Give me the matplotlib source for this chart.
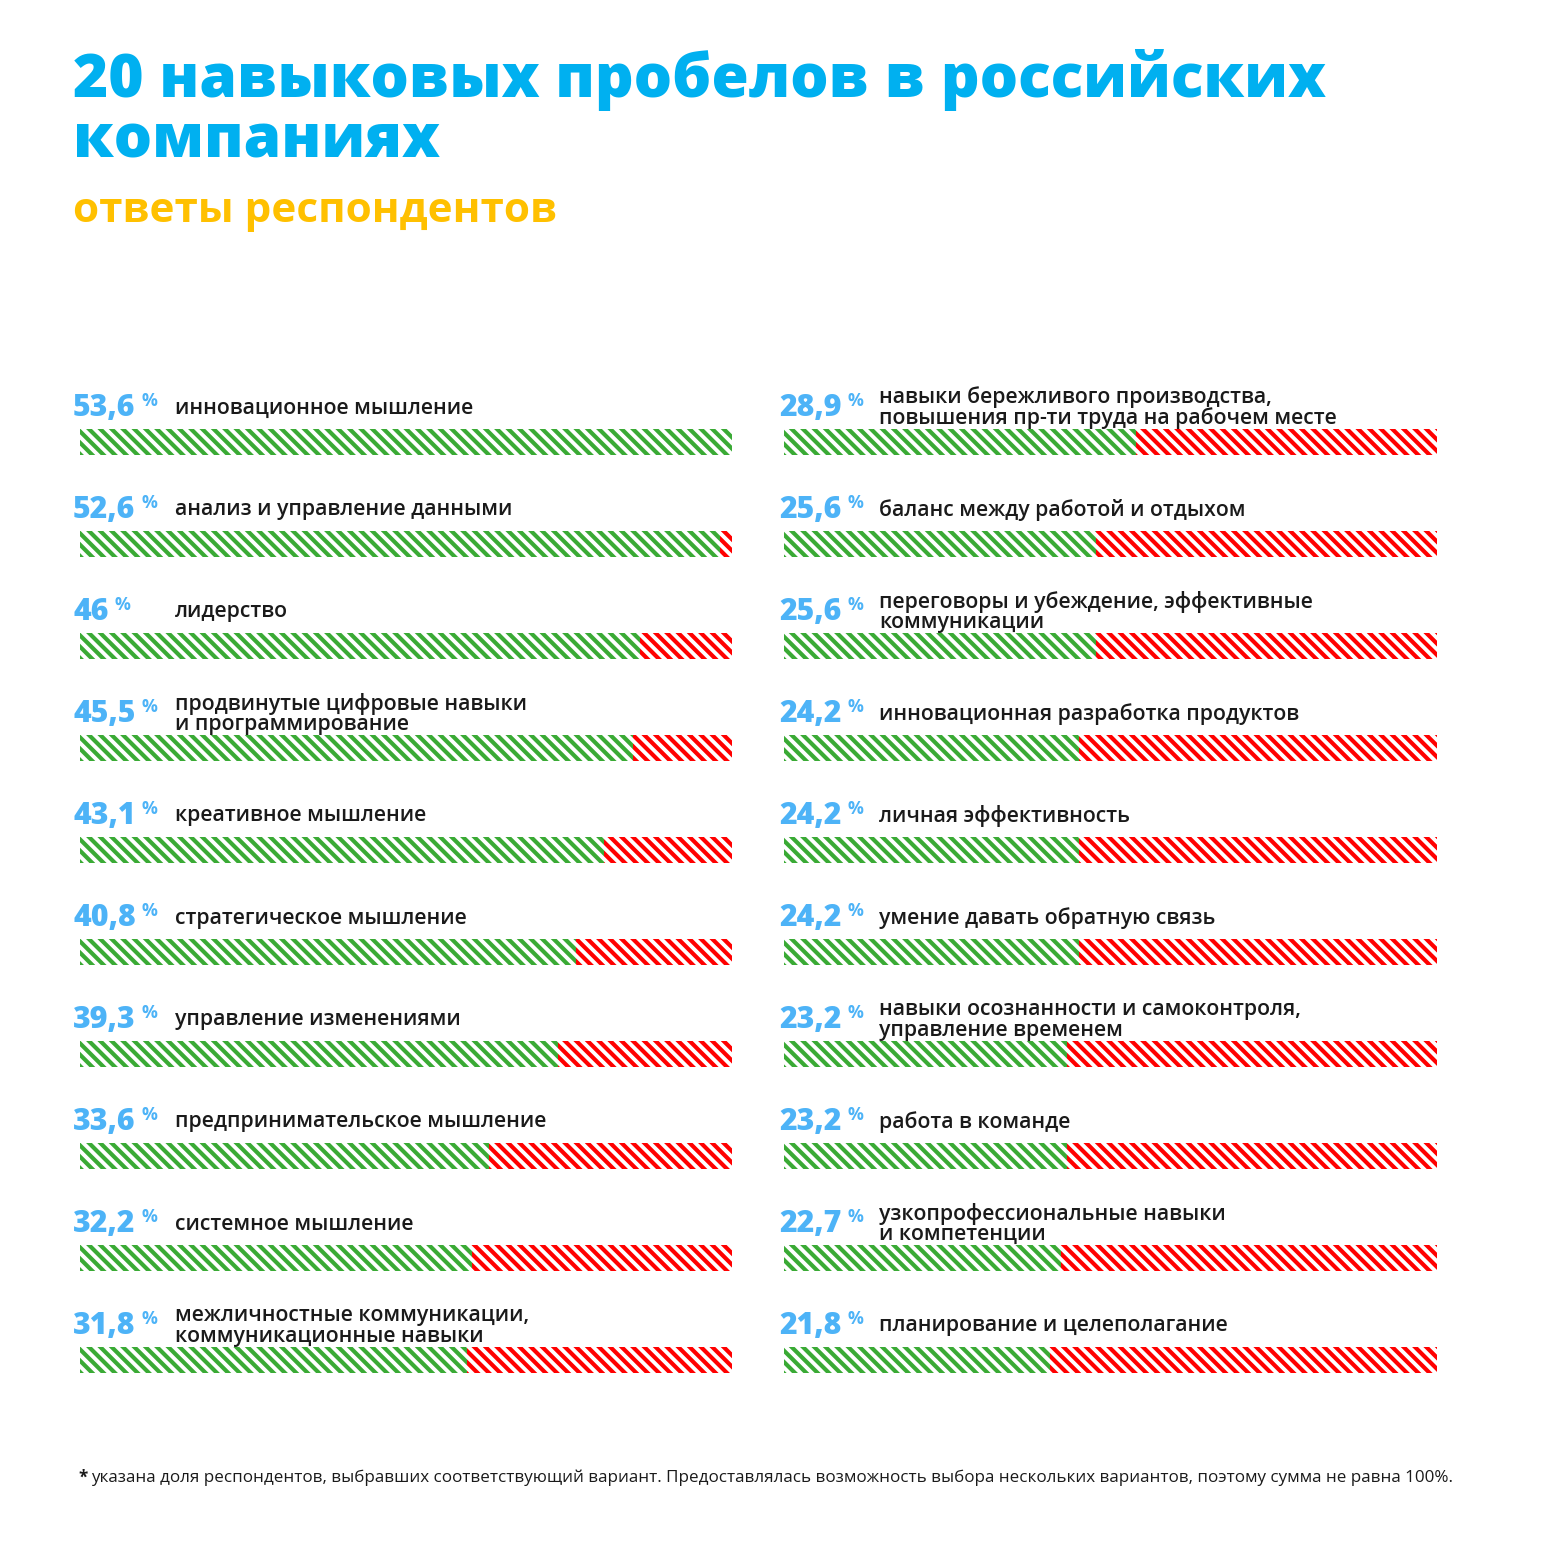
import matplotlib
matplotlib.use("Agg")
import matplotlib.pyplot as plt

# ---------------- data ----------------
title_lines = ["20 навыковых пробелов в российских", "компаниях"]
subtitle = "ответы респондентов"
footnote_star = "*"
footnote = ("указана доля респондентов, выбравших соответствующий вариант. "
            "Предоставлялась возможность выбора нескольких вариантов, поэтому сумма не равна 100%.")

left_labels = [
    "инновационное мышление",
    "анализ и управление данными",
    "лидерство",
    "продвинутые цифровые навыки\nи программирование",
    "креативное мышление",
    "стратегическое мышление",
    "управление изменениями",
    "предпринимательское мышление",
    "системное мышление",
    "межличностные коммуникации,\nкоммуникационные навыки",
]
left_values = [53.6, 52.6, 46, 45.5, 43.1, 40.8, 39.3, 33.6, 32.2, 31.8]

right_labels = [
    "навыки бережливого производства,\nповышения пр-ти труда на рабочем месте",
    "баланс между работой и отдыхом",
    "переговоры и убеждение, эффективные\nкоммуникации",
    "инновационная разработка продуктов",
    "личная эффективность",
    "умение давать обратную связь",
    "навыки осознанности и самоконтроля,\nуправление временем",
    "работа в команде",
    "узкопрофессиональные навыки\nи компетенции",
    "планирование и целеполагание",
]
right_values = [28.9, 25.6, 25.6, 24.2, 24.2, 24.2, 23.2, 23.2, 22.7, 21.8]

# ---------------- style ----------------
W = H = 1557
DPI = 136
S = 150 / DPI   # font scale so sizes in pixels stay the same

FONT = ["Open Sans", "DejaVu Sans"]
plt.rcParams["font.family"] = FONT
plt.rcParams["hatch.linewidth"] = 2.2

BLUE_TITLE = "#00b0f0"
YELLOW = "#ffc000"
BLUE_PCT = "#4db3f7"
GREEN = "#3aaa35"
RED = "#ff0000"
TEXT = "#1a1a1a"

fig = plt.figure(figsize=(W / DPI, H / DPI), dpi=DPI, facecolor="white")


def fx(x):
    return x / W


def fy(y):
    return 1 - y / H


# title / subtitle
for line, base in zip(title_lines, [97, 158]):
    fig.text(fx(73), fy(base), line, color=BLUE_TITLE, fontsize=29 * S, fontweight="heavy",
             ha="left", va="baseline")
fig.text(fx(73), fy(222), subtitle, color=YELLOW, fontsize=20.3 * S, fontweight="bold",
         ha="left", va="baseline")

# footnote
fig.text(fx(78), fy(1478), footnote_star, color=TEXT, fontsize=8.2 * S,
         fontweight="bold", ha="left", va="center")
fig.text(fx(91), fy(1478), footnote, color=TEXT, fontsize=8.2 * S, fontweight="medium",
         ha="left", va="center")

vmax = max(left_values + right_values)

ROW0 = 442      # pixel centre of first bar
STEP = 102      # pixel spacing between rows
NROWS = 10
BAR_H = 26 / STEP


def column(x0, x1, labels, values, pct_x, lab_x):
    top = ROW0 - STEP / 2
    bottom = top + STEP * NROWS
    ax = fig.add_axes([fx(x0), fy(bottom), fx(x1 - x0), (bottom - top) / H])
    ax.set_xlim(0, vmax)
    ax.set_ylim(NROWS - 0.5, -0.5)
    ax.axis("off")
    idx = list(range(len(values)))
    ax.barh(idx, values, height=BAR_H, color="white", edgecolor=GREEN,
            linewidth=0, hatch="\\\\\\\\")
    ax.barh(idx, [vmax - v for v in values], left=values, height=BAR_H,
            color="white", edgecolor=RED, linewidth=0, hatch="\\\\\\\\")
    for i, (lab, v) in enumerate(zip(labels, values)):
        yc = ROW0 + STEP * i
        num = f"{v:g}".replace(".", ",")
        t = fig.text(fx(pct_x), fy(yc - 26), num, color=BLUE_PCT, fontsize=14.5 * S,
                     fontweight="heavy", ha="left", va="baseline")
        plt.annotate("%", xy=(1, 1), xycoords=t, xytext=(3 * S, 0.5 * S),
                     textcoords="offset points", ha="left", va="top",
                     color=BLUE_PCT, fontsize=8.5 * S, fontweight="bold",
                     annotation_clip=False)
        fig.text(fx(lab_x), fy(yc - 34), lab, color=TEXT, fontsize=10.2 * S,
                 fontweight="semibold", ha="left", va="center", linespacing=0.95)
    return ax


column(80, 732, left_labels, left_values, 73, 175)
column(784, 1437, right_labels, right_values, 779, 879)

fig.savefig("out.png", dpi=DPI, facecolor="white")
